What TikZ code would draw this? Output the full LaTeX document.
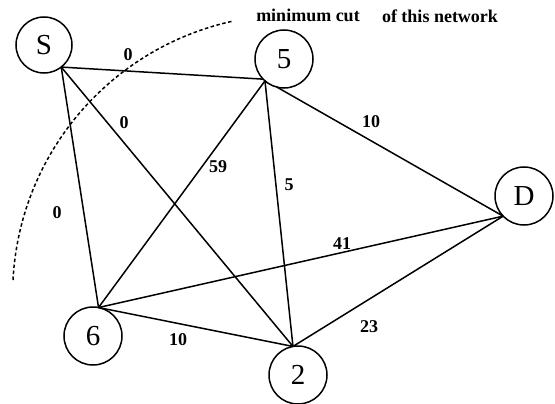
\documentclass[tikz,border=0pt]{standalone}
\usepackage{fontspec}
\setmainfont{Liberation Serif}
\begin{document}
\begin{tikzpicture}[x=1pt,y=-1pt,
  vtx/.style={circle,draw,line width=1.5pt,inner sep=0pt,outer sep=0pt,minimum size=58pt,font=\fontsize{29}{29}\selectfont},
  edge/.style={line width=1.5pt},
  wlabel/.style={font=\fontsize{18}{18}\selectfont\bfseries,inner sep=0pt},
  note/.style={font=\fontsize{18}{18}\selectfont\bfseries,inner sep=0pt},
  cutline/.style={line width=1.5pt,dash pattern=on 3.5pt off 2.5pt}]
\useasboundingbox (0,0) rectangle (555,404);
\node[vtx,minimum size=56pt] (nS) at (44,45) {S};
\node[vtx] (n5) at (284,59) {5};
\node[vtx] (nD) at (524,196) {D};
\node[vtx] (n6) at (93,336) {6};
\node[vtx] (n2) at (298,375) {2};
\draw[edge] (nS.-52) -- (n5.-136);
\draw[edge] (nS.-52) -- (n2.100);
\draw[edge] (nS.-52) -- (n6.79.5);
\draw[edge] (n5.-131) -- (n6.79.5);
\draw[edge] (n5.-131) -- (n2.100);
\draw[edge] (n5.-104) -- (nD.-136);
\draw[edge] (n6.79.5) -- (nD.-136);
\draw[edge] (n6.79.5) -- (n2.100);
\draw[edge] (n2.100) -- (nD.-136);
\node[wlabel] (l1) at (128,55) {0};
\node[wlabel] (l2) at (124,123) {0};
\node[wlabel] (l3) at (57,213) {0};
\node[wlabel] (l4) at (218,167) {59};
\node[wlabel] (l5) at (289,185) {5};
\node[wlabel] (l6) at (371,122) {10};
\node[wlabel] (l7) at (342,244) {41};
\node[wlabel] (l8) at (178,340) {10};
\node[wlabel] (l9) at (369,327) {23};
\node[note] (t1) at (308,15) {minimum cut};
\node[note] (t2) at (440,16) {of this network};
\draw[cutline] (13,280) arc[start angle=177, end angle=102.4, radius=280pt];
\end{tikzpicture}
\end{document}
